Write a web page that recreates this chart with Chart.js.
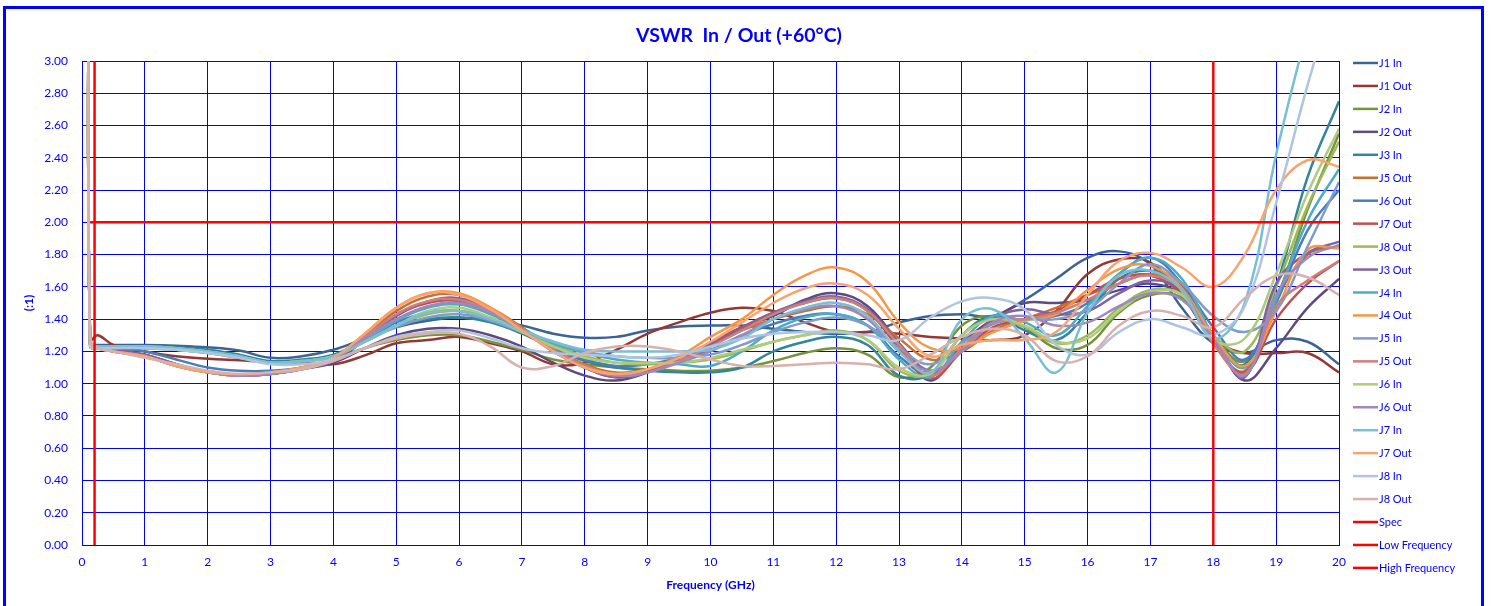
<!DOCTYPE html>
<html lang="en">
<head>
  <meta charset="UTF-8" />
  <title>VSWR In / Out (+60°C)</title>
  <script src="https://cdn.jsdelivr.net/npm/chart.js@4.4.0/dist/chart.umd.min.js"></script>
  <style>
    html, body { margin: 0; padding: 0; background: #fff; overflow: hidden; }
    .frame { position: absolute; left: 3px; top: 6px; width: 1475px; height: 700px; border: 3px solid #0000ff; }
    #vswr-chart { position: absolute; left: 0; top: 0; }
  </style>
</head>
<body>
  <div class="frame"></div>
  <canvas id="vswr-chart" width="1492" height="606"></canvas>

  <script>
    // Frequency points (GHz)
    var freqGHz = [0.1, 0.13, 0.25, 0.5,
      1, 1.5, 2, 2.5, 3, 3.5, 4, 4.5, 5,
      5.5, 6, 6.5, 7, 7.5, 8, 8.5, 9, 9.5, 10,
      10.5, 11, 11.5, 12, 12.5, 13, 13.5, 14, 14.5, 15,
      15.5, 16, 16.5, 17, 17.5, 18, 18.5, 19, 19.5, 20];

    // VSWR per port
    var j1In = [4.0, 1.25, 1.24, 1.24,
      1.24, 1.235, 1.225, 1.205, 1.16, 1.17, 1.21, 1.28, 1.35,
      1.39, 1.41, 1.39, 1.36, 1.31, 1.285, 1.29, 1.33, 1.355, 1.36,
      1.36, 1.34, 1.32, 1.31, 1.32, 1.38, 1.42, 1.43, 1.42, 1.52,
      1.65, 1.78, 1.82, 1.74, 1.47, 1.25, 1.19, 1.27, 1.26, 1.12];
    var j1Out = [4.0, 1.27, 1.30, 1.24,
      1.20, 1.17, 1.155, 1.145, 1.135, 1.13, 1.12, 1.175, 1.25,
      1.27, 1.29, 1.25, 1.20, 1.12, 1.13, 1.21, 1.31, 1.38, 1.44,
      1.47, 1.45, 1.38, 1.32, 1.32, 1.31, 1.29, 1.28, 1.27, 1.30,
      1.45, 1.68, 1.77, 1.75, 1.55, 1.28, 1.19, 1.19, 1.19, 1.07];
    var j2In = [4.0, 1.23, 1.23, 1.23,
      1.225, 1.215, 1.20, 1.17, 1.13, 1.14, 1.16, 1.22, 1.27,
      1.30, 1.30, 1.26, 1.21, 1.15, 1.12, 1.10, 1.09, 1.08, 1.08,
      1.10, 1.14, 1.19, 1.22, 1.18, 1.04, 1.10, 1.36, 1.42, 1.35,
      1.22, 1.24, 1.44, 1.55, 1.53, 1.29, 1.14, 1.52, 2.08, 2.55];
    var j2Out = [4.0, 1.24, 1.23, 1.21,
      1.18, 1.12, 1.07, 1.05, 1.06, 1.09, 1.13, 1.22, 1.30,
      1.34, 1.34, 1.30, 1.23, 1.13, 1.05, 1.02, 1.07, 1.15, 1.25,
      1.35, 1.42, 1.52, 1.56, 1.48, 1.25, 1.02, 1.25, 1.40, 1.50,
      1.50, 1.52, 1.58, 1.62, 1.55, 1.30, 1.02, 1.22, 1.47, 1.65];
    var j3In = [4.0, 1.24, 1.23, 1.23,
      1.23, 1.225, 1.21, 1.18, 1.14, 1.15, 1.18, 1.27, 1.36,
      1.40, 1.41, 1.38, 1.31, 1.22, 1.14, 1.10, 1.08, 1.07, 1.07,
      1.10, 1.20, 1.26, 1.29, 1.24, 1.05, 1.06, 1.30, 1.42, 1.33,
      1.27, 1.44, 1.65, 1.70, 1.62, 1.30, 1.12, 1.60, 2.28, 2.75];
    var j5OutA = [4.0, 1.23, 1.22, 1.20,
      1.17, 1.11, 1.07, 1.05, 1.07, 1.10, 1.16, 1.30, 1.45,
      1.54, 1.55, 1.47, 1.35, 1.22, 1.12, 1.07, 1.09, 1.15, 1.24,
      1.33, 1.40, 1.45, 1.48, 1.43, 1.28, 1.15, 1.20, 1.33, 1.40,
      1.47, 1.55, 1.62, 1.68, 1.60, 1.25, 1.08, 1.52, 1.80, 1.85];
    var j6OutA = [4.0, 1.24, 1.23, 1.22,
      1.20, 1.15, 1.10, 1.08, 1.08, 1.10, 1.16, 1.27, 1.38,
      1.44, 1.45, 1.40, 1.32, 1.22, 1.15, 1.11, 1.12, 1.16, 1.21,
      1.30, 1.37, 1.42, 1.43, 1.36, 1.17, 1.06, 1.22, 1.38, 1.40,
      1.42, 1.50, 1.68, 1.78, 1.62, 1.35, 1.15, 1.50, 1.95, 2.20];
    var j7OutA = [4.0, 1.24, 1.23, 1.21,
      1.18, 1.12, 1.07, 1.05, 1.06, 1.09, 1.15, 1.28, 1.42,
      1.50, 1.51, 1.44, 1.33, 1.20, 1.10, 1.04, 1.08, 1.16, 1.25,
      1.35, 1.44, 1.50, 1.53, 1.45, 1.22, 1.03, 1.20, 1.35, 1.40,
      1.45, 1.55, 1.65, 1.67, 1.55, 1.25, 1.07, 1.40, 1.62, 1.76];
    var j8OutA = [4.0, 1.24, 1.23, 1.23,
      1.23, 1.22, 1.20, 1.17, 1.13, 1.14, 1.17, 1.26, 1.36,
      1.43, 1.45, 1.41, 1.33, 1.24, 1.17, 1.13, 1.12, 1.13, 1.15,
      1.20, 1.26, 1.30, 1.33, 1.27, 1.08, 1.06, 1.30, 1.40, 1.35,
      1.25, 1.30, 1.47, 1.58, 1.55, 1.30, 1.20, 1.60, 2.10, 2.50];
    var j3Out = [4.0, 1.24, 1.23, 1.21,
      1.18, 1.12, 1.07, 1.05, 1.06, 1.09, 1.14, 1.27, 1.42,
      1.51, 1.53, 1.46, 1.34, 1.20, 1.10, 1.04, 1.07, 1.15, 1.24,
      1.34, 1.44, 1.51, 1.54, 1.46, 1.25, 1.08, 1.20, 1.40, 1.46,
      1.43, 1.45, 1.56, 1.64, 1.58, 1.30, 1.04, 1.62, 1.81, 1.88];
    var j4In = [4.0, 1.24, 1.23, 1.23,
      1.22, 1.21, 1.19, 1.16, 1.13, 1.14, 1.17, 1.27, 1.39,
      1.47, 1.49, 1.43, 1.34, 1.25, 1.19, 1.15, 1.13, 1.12, 1.11,
      1.20, 1.33, 1.41, 1.43, 1.36, 1.15, 1.04, 1.26, 1.42, 1.38,
      1.30, 1.48, 1.68, 1.78, 1.65, 1.30, 1.10, 1.52, 2.01, 2.33];
    var j4Out = [4.0, 1.23, 1.22, 1.20,
      1.17, 1.11, 1.07, 1.05, 1.07, 1.10, 1.16, 1.31, 1.47,
      1.56, 1.56, 1.47, 1.34, 1.21, 1.11, 1.06, 1.09, 1.17, 1.29,
      1.40, 1.55, 1.67, 1.72, 1.63, 1.38, 1.22, 1.22, 1.32, 1.39,
      1.43, 1.58, 1.71, 1.73, 1.59, 1.30, 1.11, 1.45, 1.83, 1.84];
    var j5In = [4.0, 1.24, 1.23, 1.23,
      1.22, 1.21, 1.19, 1.16, 1.13, 1.14, 1.17, 1.26, 1.35,
      1.41, 1.43, 1.39, 1.32, 1.26, 1.20, 1.17, 1.16, 1.16, 1.18,
      1.24, 1.32, 1.38, 1.41, 1.36, 1.22, 1.12, 1.25, 1.37, 1.40,
      1.40, 1.46, 1.62, 1.74, 1.62, 1.42, 1.32, 1.45, 1.85, 2.25];
    var j5OutB = [4.0, 1.24, 1.22, 1.20,
      1.17, 1.11, 1.07, 1.05, 1.06, 1.09, 1.15, 1.29, 1.43,
      1.51, 1.52, 1.45, 1.34, 1.21, 1.11, 1.05, 1.07, 1.14, 1.23,
      1.33, 1.43, 1.50, 1.53, 1.45, 1.24, 1.05, 1.22, 1.38, 1.40,
      1.44, 1.52, 1.62, 1.67, 1.58, 1.25, 1.06, 1.48, 1.64, 1.76];
    var j6In = [4.0, 1.24, 1.23, 1.23,
      1.23, 1.22, 1.20, 1.17, 1.13, 1.14, 1.17, 1.26, 1.36,
      1.45, 1.47, 1.41, 1.32, 1.23, 1.16, 1.13, 1.13, 1.13, 1.16,
      1.21, 1.26, 1.30, 1.32, 1.27, 1.10, 1.06, 1.30, 1.40, 1.36,
      1.26, 1.28, 1.45, 1.57, 1.55, 1.27, 1.28, 1.68, 2.18, 2.58];
    var j6OutB = [4.0, 1.24, 1.22, 1.20,
      1.17, 1.11, 1.07, 1.05, 1.06, 1.09, 1.15, 1.28, 1.40,
      1.48, 1.50, 1.44, 1.33, 1.20, 1.10, 1.05, 1.07, 1.13, 1.20,
      1.30, 1.40, 1.46, 1.48, 1.40, 1.20, 1.08, 1.20, 1.38, 1.42,
      1.36, 1.38, 1.48, 1.56, 1.52, 1.28, 1.05, 1.55, 1.78, 1.86];
    var j7In = [4.0, 1.24, 1.23, 1.23,
      1.23, 1.22, 1.20, 1.17, 1.13, 1.14, 1.17, 1.26, 1.36,
      1.44, 1.45, 1.40, 1.33, 1.26, 1.21, 1.20, 1.20, 1.20, 1.21,
      1.28, 1.40, 1.47, 1.50, 1.42, 1.20, 1.07, 1.40, 1.46, 1.28,
      1.07, 1.44, 1.67, 1.70, 1.58, 1.28, 1.50, 2.42, 3.2, 3.9];
    var j7OutB = [4.0, 1.24, 1.22, 1.20,
      1.17, 1.11, 1.07, 1.06, 1.07, 1.10, 1.16, 1.31, 1.47,
      1.56, 1.55, 1.46, 1.33, 1.20, 1.10, 1.06, 1.09, 1.16, 1.26,
      1.38, 1.50, 1.59, 1.62, 1.55, 1.34, 1.17, 1.24, 1.27, 1.27,
      1.32, 1.55, 1.76, 1.81, 1.72, 1.60, 1.80, 2.20, 2.385, 2.345];
    var j8In = [4.0, 1.23, 1.22, 1.22,
      1.22, 1.21, 1.19, 1.16, 1.12, 1.12, 1.15, 1.22, 1.29,
      1.32, 1.33, 1.28, 1.22, 1.19, 1.18, 1.17, 1.16, 1.18, 1.23,
      1.28, 1.31, 1.32, 1.32, 1.30, 1.27, 1.41, 1.51, 1.53, 1.46,
      1.24, 1.18, 1.32, 1.40, 1.35, 1.30, 1.48, 2.12, 2.85, 3.5];
    var j8OutB = [4.0, 1.28, 1.22, 1.20,
      1.16, 1.12, 1.08, 1.06, 1.07, 1.09, 1.14, 1.22, 1.28,
      1.31, 1.31, 1.23, 1.10, 1.11, 1.19, 1.23, 1.23, 1.20, 1.15,
      1.11, 1.11, 1.12, 1.13, 1.12, 1.09, 1.18, 1.29, 1.34, 1.30,
      1.14, 1.17, 1.36, 1.45, 1.42, 1.35, 1.53, 1.67, 1.66, 1.55];

    // limits
    var specX = [0.13, 20];
    var specY = [2.0, 2.0];
    var lowFreqX = [0.2, 0.2];
    var highFreqX = [18, 18];
    var bandY = [0, 3];

    var seriesLabels = ['J1 In', 'J1 Out', 'J2 In', 'J2 Out', 'J3 In', 'J5 Out', 'J6 Out', 'J7 Out', 'J8 Out', 'J3 Out',
      'J4 In', 'J4 Out', 'J5 In', 'J5 Out', 'J6 In', 'J6 Out', 'J7 In', 'J7 Out', 'J8 In', 'J8 Out'];
    var seriesValues = [j1In, j1Out, j2In, j2Out, j3In, j5OutA, j6OutA, j7OutA, j8OutA, j3Out,
      j4In, j4Out, j5In, j5OutB, j6In, j6OutB, j7In, j7OutB, j8In, j8OutB];
    var seriesColors = ['#3B6496', '#953735', '#77933C', '#604A7B', '#31859C', '#C8702F', '#4A7EBB', '#C0504D', '#9BBB59', '#8064A2',
      '#4BACC6', '#F79646', '#7F9CCB', '#CD7F7C', '#AFCB7E', '#9E88BE', '#78BFD3', '#F9A46E', '#B0C4E2', '#D8B0AC'];

    var BLUE = '#0000ff';
    var RED = '#ff0000';
    var FONT = 'Lato, "DejaVu Sans", sans-serif';

    function toPoints(xs, ys) {
      return xs.map(function (x, k) { return { x: x, y: ys[k] }; });
    }

    var datasets = seriesValues.map(function (vals, i) {
      return {
        label: seriesLabels[i],
        data: toPoints(freqGHz, vals),
        borderColor: seriesColors[i],
        borderWidth: 2.5,
        pointRadius: 0,
        tension: 0.4,
        fill: false,
        order: -i
      };
    });
    datasets.push({ label: 'Spec', data: toPoints(specX, specY), borderColor: RED, borderWidth: 2.5, pointRadius: 0, tension: 0, order: -20 });
    datasets.push({ label: 'Low Frequency', data: toPoints(lowFreqX, bandY), borderColor: RED, borderWidth: 2.5, pointRadius: 0, tension: 0, order: -21 });
    datasets.push({ label: 'High Frequency', data: toPoints(highFreqX, bandY), borderColor: RED, borderWidth: 2.5, pointRadius: 0, tension: 0, order: -22 });

    // legend drawn on the right, one row per dataset
    var sideLegend = {
      id: 'sideLegend',
      afterDraw: function (chart) {
        var ctx = chart.ctx;
        var area = chart.chartArea;
        var x0 = area.right + 14;
        var top = area.top + 2;
        var step = 22.95;
        ctx.save();
        ctx.font = '11px ' + FONT;
        ctx.textBaseline = 'middle';
        ctx.textAlign = 'left';
        chart.data.datasets.forEach(function (ds, i) {
          var y = top + i * step;
          ctx.strokeStyle = ds.borderColor;
          ctx.lineWidth = 2.5;
          ctx.beginPath();
          ctx.moveTo(x0, y);
          ctx.lineTo(x0 + 25, y);
          ctx.stroke();
          ctx.fillStyle = BLUE;
          ctx.fillText(ds.label, x0 + 26, y + 0.5);
        });
        ctx.restore();
      }
    };

    var ctx = document.getElementById('vswr-chart').getContext('2d');
    new Chart(ctx, {
      type: 'line',
      data: { datasets: datasets },
      plugins: [sideLegend],
      options: {
        responsive: false,
        animation: false,
        layout: { padding: { left: 10, right: 24, top: 14, bottom: 10 } },
        plugins: {
          legend: { display: false },
          tooltip: { enabled: false },
          title: {
            display: true,
            text: 'VSWR  In / Out (+60°C)',
            color: BLUE,
            font: { family: FONT, size: 19.5, weight: 'bold' },
            padding: { top: 10, bottom: 13.6 }
          }
        },
        scales: {
          x: {
            type: 'linear',
            min: 0,
            max: 20,
            ticks: { stepSize: 1, color: BLUE, font: { family: FONT, size: 12 }, padding: 10 },
            grid: { color: BLUE, lineWidth: 1, drawTicks: false },
            border: { color: BLUE, width: 1 },
            title: { display: true, text: 'Frequency (GHz)', color: BLUE, font: { family: FONT, size: 12, weight: 'bold' }, padding: { top: 8, bottom: 4 } },
            afterFit: function (scale) { scale.height = 51; }
          },
          y: {
            min: 0,
            max: 3,
            ticks: {
              stepSize: 0.2, color: BLUE, font: { family: FONT, size: 12 }, padding: 14,
              callback: function (v) { return v.toFixed(2); }
            },
            grid: { color: BLUE, lineWidth: 1, drawTicks: false },
            border: { color: BLUE, width: 1 },
            title: { display: true, text: '(:1)', color: BLUE, font: { family: FONT, size: 12, weight: 'bold' }, padding: { top: 12, bottom: 4 } },
            afterFit: function (scale) { scale.width = 72; }
          },
          legendSpace: {
            position: 'right',
            min: 0,
            max: 3,
            grid: { display: false },
            ticks: { display: false },
            border: { display: false },
            afterFit: function (scale) { scale.width = 129; }
          }
        }
      }
    });
  </script>
</body>
</html>
